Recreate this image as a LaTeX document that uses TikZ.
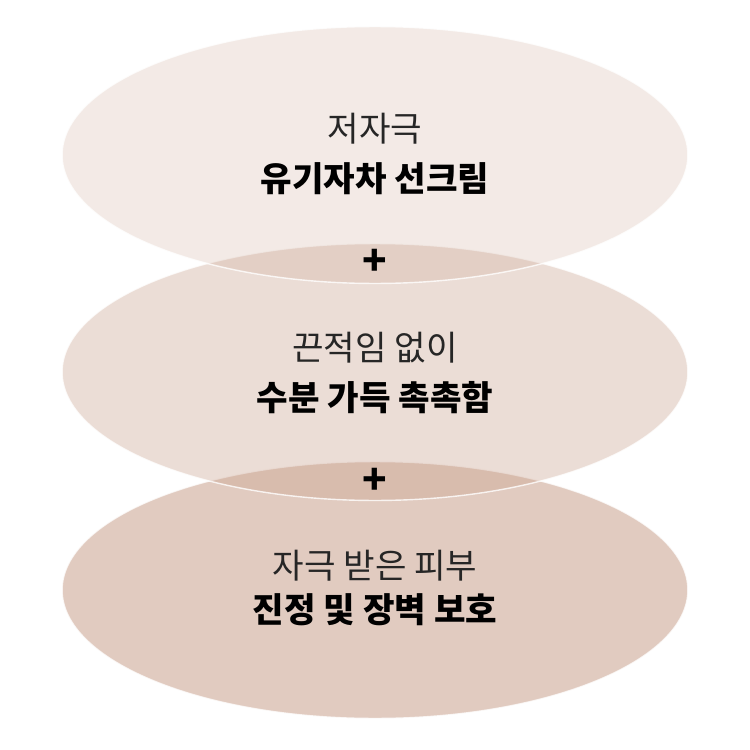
\documentclass[tikz,border=0pt]{standalone}
\usepackage{fontspec}
\setmainfont{Noto Sans CJK KR}
\usetikzlibrary{shapes.geometric, positioning}
\definecolor{blush}{RGB}{200,160,140}
\tikzset{%
   % one translucent disc per step, the overlaps darken by themselves
   layer/.style={
      ellipse,
      draw=white,
      draw opacity=.8,
      line width=.8pt,
      fill=blush,
      inner sep=0pt,
      minimum width=12.52cm,
      minimum height=5.14cm
   },
   lead/.style={
      font=\fontsize{19.5}{22}\selectfont,
      text=black!85
   },
   claim/.style={
      font=\fontsize{19.5}{22}\selectfont\bfseries,
      text=black
   },
   plus/.style={
      font=\fontsize{23}{23}\selectfont\bfseries
   },
}

\begin{document}
\begin{tikzpicture}[x=.02cm, y=-.02cm]
    \useasboundingbox (0,0) rectangle (750,750);
    \node[layer, fill opacity=.55] (skin) at (375,590) {};
    \node[layer, fill opacity=.36] (moist) at (375,372) {};
    \node[layer, fill opacity=.22] (sun) at (375,155) {};
    \node[lead] (sunA) at (375,129) {저자극};
    \node[claim] (sunB) at (375,179) {유기자차 선크림};
    \node[lead] (moistA) at (375,348) {끈적임 없이};
    \node[claim] (moistB) at (375,398) {수분 가득 촉촉함};
    \node[lead] (skinA) at (375,566) {자극 받은 피부};
    \node[claim] (skinB) at (375,610) {진정 및 장벽 보호};
    \node[plus] (p1) at (375,262) {+};
    \node[plus] (p2) at (375,481) {+};
\end{tikzpicture}
\end{document}
